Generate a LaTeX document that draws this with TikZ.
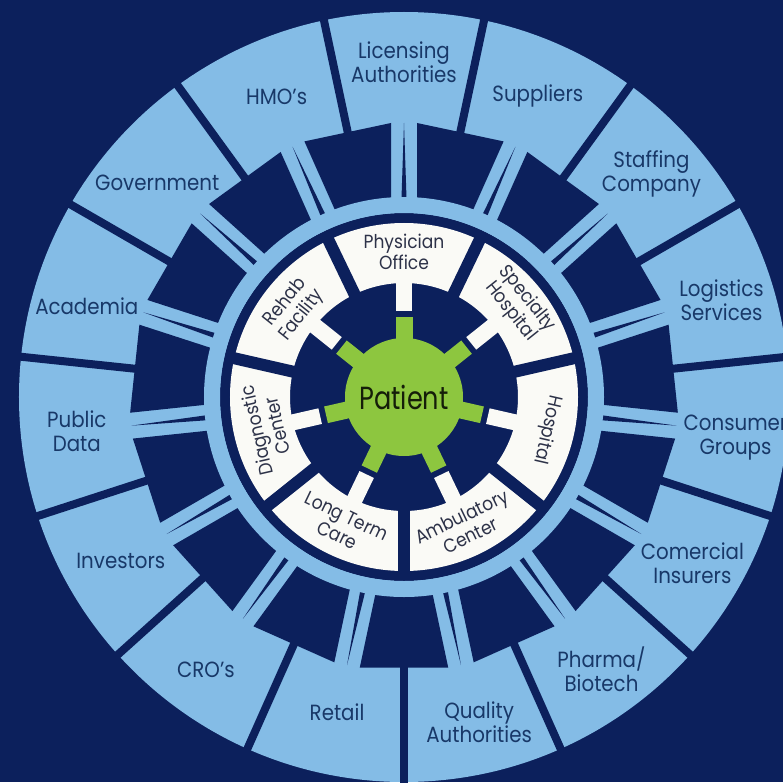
\documentclass[tikz,border=0pt]{standalone}
\usepackage{fontspec}
\setmainfont{Poppins}
\newfontfamily\narrowfont[FakeStretch=0.9]{Poppins}
\newfontfamily\gearfont[FakeStretch=0.8]{Poppins}
\usetikzlibrary{calc}

\definecolor{navybg}{RGB}{12,32,92}
\definecolor{ringblue}{RGB}{132,188,230}
\definecolor{cardwhite}{RGB}{250,250,246}
\definecolor{geargreen}{RGB}{141,198,63}
\definecolor{outink}{RGB}{24,56,104}
\definecolor{inink}{RGB}{45,50,72}

\begin{document}
\begin{tikzpicture}[
  x=1pt, y=1pt,
  outlabel/.style={text=outink, font=\narrowfont\fontsize{22}{24}\selectfont, align=center, inner sep=0pt},
  inlabel/.style={text=inink, font=\narrowfont\fontsize{19}{21}\selectfont, align=center, inner sep=0pt},
  divider/.style={draw=navybg, line width=8pt},
  cardgap/.style={draw=navybg, line width=12pt},
  cardtab/.style={draw=cardwhite, line width=16pt},
  gearcog/.style={draw=geargreen, line width=17pt}
]
  \useasboundingbox (-404,-385) rectangle (379,397);
  \fill[navybg] (-404,-385) rectangle (379,397);
  % outer ring of partners
  \fill[ringblue] (0,0) circle (385);
  \foreach \a in {102,78,...,-234} {
    \fill[navybg] ($(\a+12:198)+(\a-78:13)$) -- ($(\a+12:274)+(\a-78:13)$)
      -- ($(\a-12:274)+(\a+78:13)$) -- ($(\a-12:198)+(\a+78:13)$) -- cycle;
    \draw[divider] (\a:270) -- (\a:400);
  }
  \foreach \s in {90,66,...,-246}
    \fill[navybg] ($(\s:199)+(\s+90:2.5)$) -- ($(\s:199)+(\s-90:2.5)$) -- (\s:274) -- cycle;
  \fill[navybg] (0,0) circle (184);
  \draw[ringblue, line width=16pt] (0,0) circle (192);
  % care settings and gear
  \draw[cardwhite, line width=60pt] (0,0) circle (144);
  \foreach \k in {0,...,6} {
    \draw[cardgap] (64.29-51.43*\k:108) -- (64.29-51.43*\k:180);
    \draw[cardtab] (90-51.43*\k:86) -- (90-51.43*\k:116);
    \draw[gearcog] (90-51.43*\k:50) -- (90-51.43*\k:80);
  }
  \fill[geargreen] (0,0) circle (59);

  \node[text=black!85!geargreen, font=\gearfont\fontsize{32}{36}\selectfont, inner sep=0pt] (patient) at (0,0) {Patient};

  \node[inlabel] (physician) at (90:145) {Physician\\Office};
  \node[inlabel, rotate=-51.43] (specialty) at (38.57:147) {Specialty\\Hospital};
  \node[inlabel, rotate=-102.86] (hospital) at (-12.86:147) {Hospital};
  \node[inlabel, rotate=25.71] (ambulatory) at (-64.29:143) {Ambulatory\\Center};
  \node[inlabel, rotate=-25.71] (longterm) at (-115.71:143) {Long Term\\Care};
  \node[inlabel, rotate=102.86] (diagnostic) at (192.86:141) {Diagnostic\\Center};
  \node[inlabel, rotate=51.43] (rehab) at (141.43:141) {Rehab\\Facility};

  \node[outlabel] (licensing) at (90:335) {Licensing\\Authorities};
  \node[outlabel] (suppliers) at (66:329) {Suppliers};
  \node[outlabel] (staffing) at (42:333) {Staffing\\Company};
  \node[outlabel] (logistics) at (17:332) {Logistics\\Services};
  \node[outlabel] (consumer) at (-7:334) {Consumer\\Groups};
  \node[outlabel] (insurers) at (-30:333) {Comercial\\Insurers};
  \node[outlabel] (pharma) at (-54:336) {Pharma/\\Biotech};
  \node[outlabel] (quality) at (-77:334) {Quality\\Authorities};
  \node[outlabel] (retail) at (258:322) {Retail};
  \node[outlabel] (cros) at (234:337) {CRO’s};
  \node[outlabel] (investors) at (210:327) {Investors};
  \node[outlabel] (publicdata) at (186:329) {Public\\Data};
  \node[outlabel] (academia) at (164:330) {Academia};
  \node[outlabel] (government) at (139:327) {Government};
  \node[outlabel] (hmos) at (113:326) {HMO’s};
\end{tikzpicture}
\end{document}
